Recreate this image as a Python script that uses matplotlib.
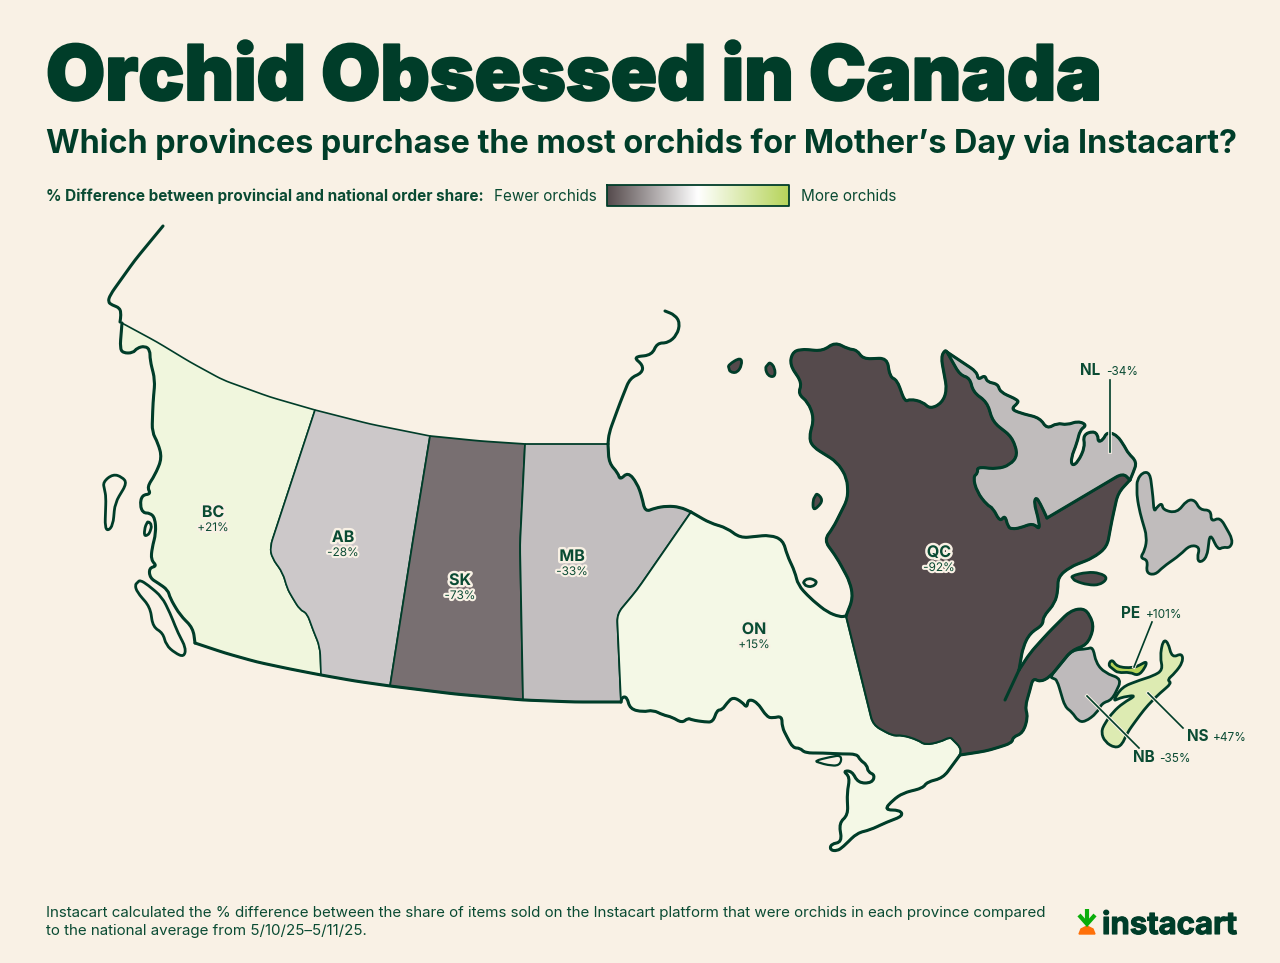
import numpy as np
import matplotlib
matplotlib.use('Agg')
import matplotlib.pyplot as plt
import matplotlib.patheffects as pe
from matplotlib.colors import LinearSegmentedColormap, TwoSlopeNorm
from matplotlib.patches import PathPatch
from matplotlib.path import Path

# Province values (% difference from national order share)
provinces = ['BC', 'AB', 'SK', 'MB', 'ON', 'QC', 'NL', 'NB', 'NS', 'PE']
values = [21, -28, -73, -33, 15, -92, -34, -35, 47, 101]
value_labels = ['+21%', '-28%', '-73%', '-33%', '+15%', '-92%', '-34%', '-35%', '+47%', '+101%']

# Map outlines in pixel units
bc_north = [(120, 322), (157, 342), (190, 362), (223, 380), (270, 397), (315, 410)]
bc_ab = [(315, 410), (270, 547), (272, 558), (283, 573), (287, 588), (292, 597), (300, 610),
         (307, 613), (313, 630), (320, 647), (321, 675)]
south_bc = [(195, 643), (225, 653), (257, 662), (290, 669), (321, 675)]
south_ab = [(321, 675), (355, 681), (390, 686)]
south_sk = [(390, 686), (455, 694), (523, 700)]
south_mb = [(523, 700), (575, 702), (621, 702)]
bc_coast = [(195, 643), (193, 628), (180, 615), (170, 598), (168, 590), (158, 583), (150, 578),
            (149, 568), (157, 566), (151, 560), (152, 548), (156, 533), (155, 518), (150, 513),
            (143, 513), (140, 505), (142, 495), (151, 494), (147, 487), (155, 475), (162, 458),
            (158, 443), (152, 432), (153, 403), (155, 380), (150, 360), (150, 350), (145, 346),
            (137, 348), (133, 353), (123, 353), (120, 348), (122, 323)]
alaska_line = [(163, 226), (135, 260), (110, 295), (108, 302), (112, 305), (120, 308), (121, 315), (120, 322)]
haida = [(103, 482), (113, 474), (122, 477), (127, 483), (115, 503), (113, 525), (108, 531),
         (105, 527), (106, 497)]
bc_small = [(148, 521), (152, 525), (150, 532), (148, 535), (144, 536), (145, 527)]
vancouver = [(140, 580), (148, 585), (162, 597), (170, 613), (178, 633), (186, 648), (184, 657),
             (175, 653), (166, 645), (163, 633), (153, 627), (150, 607), (137, 592), (135, 585)]

ab_north = [(315, 410), (370, 424), (430, 436)]
ab_sk = [(430, 436), (413, 540), (390, 686)]
sk_north = [(430, 436), (480, 441), (525, 444)]
sk_mb = [(525, 444), (520, 545), (523, 700)]
mb_north = [(525, 444), (608, 444)]
mb_coast = [(608, 444), (609, 463), (618, 473), (620, 480), (628, 472), (637, 483), (642, 497),
            (645, 512), (655, 508), (667, 506), (680, 507), (691, 512)]
mb_on = [(691, 512), (637, 590), (617, 614), (621, 702)]
mb_line = [(608, 444), (609, 433), (620, 403), (630, 378), (642, 373), (643, 365), (633, 357),
           (652, 355), (657, 343), (668, 343), (677, 335), (680, 323), (675, 315), (665, 311)]

on_north = [(691, 512), (710, 523), (727, 528), (740, 538), (770, 535), (783, 540), (787, 555),
            (795, 572), (798, 585), (810, 598), (827, 612), (840, 617), (846, 616)]
on_qc = [(846, 616), (873, 725), (893, 736), (902, 735), (918, 740), (925, 745), (940, 742),
         (950, 737), (953, 740), (961, 748), (960, 755)]
on_south = [(960, 755), (943, 778), (927, 782), (923, 788), (903, 793), (893, 800), (884, 810),
            (900, 810), (903, 816), (887, 822), (870, 830), (857, 833), (843, 847), (837, 851),
            (830, 850), (831, 844), (842, 842), (839, 823), (848, 815), (847, 793), (850, 777),
            (843, 771), (852, 771), (858, 783), (872, 783), (875, 775), (868, 772), (867, 765),
            (860, 760), (857, 754), (842, 754), (823, 753), (805, 753), (800, 748), (793, 748),
            (787, 737), (782, 727), (782, 716), (773, 718), (767, 717), (757, 702), (748, 699),
            (747, 708), (742, 702), (733, 697), (727, 703), (722, 710), (717, 710), (713, 722),
            (705, 722), (692, 720), (688, 718), (682, 723), (672, 717), (663, 715), (653, 710),
            (643, 712), (630, 709), (627, 697), (622, 697), (621, 702)]
manitoulin = [(814, 761), (830, 757), (842, 755), (840, 766), (827, 765)]
akimiski = [(803, 582), (808, 578), (815, 580), (817, 583), (812, 587), (806, 586)]

qc_west = [(846, 616), (853, 598), (850, 582), (837, 558), (824, 540), (833, 528), (848, 498),
           (847, 478), (837, 462), (813, 447), (809, 438), (814, 418), (808, 402), (798, 394),
           (802, 383), (790, 365), (792, 353), (800, 349), (823, 351), (835, 342), (848, 349),
           (857, 350), (863, 359), (887, 358), (890, 377), (897, 380), (905, 402), (910, 399),
           (923, 402), (930, 409), (942, 403), (947, 390), (941, 357), (945, 350), (947, 352)]
qc_nl = [(947, 352), (960, 375), (970, 378), (973, 392), (987, 402), (993, 422), (1012, 437),
         (1018, 455), (1010, 465), (997, 469), (977, 467), (978, 473), (973, 477), (977, 492),
         (987, 505), (993, 508), (1000, 522), (1005, 515), (1008, 527), (1012, 529), (1020, 528),
         (1033, 523), (1040, 530), (1038, 517), (1034, 503), (1036, 497), (1040, 503), (1047, 518)]
qc_nl_end = [(1047, 518), (1123, 473), (1130, 480)]
qc_east = [(1130, 480), (1118, 493), (1112, 520), (1107, 547), (1093, 558), (1070, 567), (1058, 577),
           (1058, 590), (1055, 603), (1043, 617), (1043, 625), (1030, 633), (1023, 647), (1019, 670)]
gaspe = [(1019, 670), (1030, 653), (1048, 633), (1070, 611), (1083, 608), (1090, 615), (1094, 628), (1087, 645),
         (1072, 650), (1050, 677), (1040, 682), (1033, 678), (1030, 690), (1025, 707), (1028, 717),
         (1023, 733), (1013, 737), (1012, 743), (990, 750), (980, 752), (960, 755)]
gaspe_tip = [(1019, 670), (1005, 700)]
anticosti = [(1071, 576), (1087, 572), (1100, 573), (1108, 578), (1100, 585), (1088, 585), (1075, 581)]
qc_isle_1 = [(728, 365), (741, 357), (742, 365), (737, 373), (730, 372)]
qc_isle_2 = [(770, 362), (775, 368), (775, 377), (768, 376), (765, 368)]
qc_isle_3 = [(817, 493), (823, 500), (818, 507), (813, 510), (813, 500)]

nl_coast = [(947, 352), (977, 372), (978, 380), (985, 375), (987, 382), (998, 384), (1000, 392),
            (1018, 400), (1018, 403), (1011, 409), (1020, 413), (1040, 418), (1047, 429), (1057, 423),
            (1067, 425), (1078, 421), (1087, 425), (1080, 430), (1077, 443), (1071, 458), (1072, 466),
            (1078, 462), (1085, 447), (1083, 435), (1093, 431), (1098, 435), (1098, 442), (1103, 440),
            (1107, 432), (1117, 435), (1125, 447), (1128, 453), (1137, 462), (1133, 473), (1130, 480)]
newfoundland = [(1137, 480), (1143, 472), (1150, 473), (1153, 497), (1154, 512), (1157, 507), (1162, 503),
                (1163, 510), (1177, 513), (1187, 500), (1195, 500), (1200, 510), (1211, 510), (1211, 522),
                (1220, 517), (1233, 540), (1230, 548), (1223, 547), (1218, 550), (1210, 533), (1207, 557),
                (1200, 563), (1197, 558), (1200, 547), (1190, 545), (1180, 555), (1163, 567), (1155, 575),
                (1146, 573), (1148, 560), (1140, 558), (1145, 550), (1147, 537), (1140, 513), (1137, 497)]
nb = [(1050, 677), (1072, 650), (1087, 649), (1093, 647), (1096, 663), (1105, 673), (1122, 679),
      (1112, 700), (1102, 703), (1097, 713), (1085, 722), (1078, 721), (1072, 712), (1065, 707), (1057, 680)]
pe_island = [(1108, 665), (1112, 659), (1117, 667), (1133, 668), (1140, 665), (1147, 661), (1145, 668),
             (1138, 676), (1130, 672), (1118, 673)]
ns = [(1113, 701), (1122, 687), (1140, 680), (1153, 676), (1163, 670), (1160, 657), (1163, 640),
      (1168, 642), (1172, 658), (1182, 653), (1183, 662), (1175, 673), (1167, 680), (1172, 683),
      (1160, 693), (1148, 705), (1140, 715), (1127, 733), (1122, 745), (1115, 748), (1105, 742),
      (1101, 732), (1105, 723), (1113, 712), (1123, 703), (1137, 695), (1123, 697)]

# Leader lines for the eastern provinces
nl_leader = [(1110, 380), (1110, 452)]
pe_leader = [(1152, 622), (1134, 667)]
ns_leader = [(1148, 693), (1183, 728)]
nb_leader = [(1087, 696), (1139, 748)]

# Carrot logo
logo_dome = [(1079, 934), (1081, 929), (1087, 926), (1093, 929), (1095, 934)]
logo_stem = [(1087, 909), (1087, 924)]
logo_leaf = [(1079, 915), (1087, 924), (1095, 915)]

BG = '#F9F1E5'
GREEN = '#003D29'
TEXT = '#0A4B33'
plt.rcParams['font.family'] = ['Inter', 'Lato', 'DejaVu Sans']

cmap = LinearSegmentedColormap.from_list('orchid', ['#554A4C', '#FFFFFF', '#B6D45A'])
norm = TwoSlopeNorm(vmin=-92, vcenter=0, vmax=101)
colors = dict(zip(provinces, [cmap(norm(v)) for v in values]))

fig = plt.figure(figsize=(12.8, 9.63), dpi=100, facecolor=BG)
ax = fig.add_axes([0, 0, 1, 1])
ax.set_xlim(0, 1280)
ax.set_ylim(963, 0)
ax.axis('off')


def chain_path(chains, radius=8):
    # Round the corners of each chain, the chain ends stay where they are
    verts = []
    codes = []
    for chain in chains:
        pts = np.array(chain, dtype=float)
        if not verts:
            verts.append(pts[0])
            codes.append(Path.MOVETO)
        for i in range(1, len(pts) - 1):
            back = pts[i - 1] - pts[i]
            ahead = pts[i + 1] - pts[i]
            len_b = np.hypot(*back)
            len_a = np.hypot(*ahead)
            verts.append(pts[i] + back / len_b * min(radius, len_b / 2))
            codes.append(Path.LINETO)
            verts.append(pts[i])
            codes.append(Path.CURVE3)
            verts.append(pts[i] + ahead / len_a * min(radius, len_a / 2))
            codes.append(Path.CURVE3)
        verts.append(pts[-1])
        codes.append(Path.LINETO)
    return Path(np.array(verts), codes)


def shape(chains, color, lw=1.5):
    patch = PathPatch(chain_path(chains), facecolor=color, edgecolor=GREEN, lw=lw,
                      joinstyle='round', zorder=2)
    ax.add_patch(patch)


def island(points, color, lw=2.0):
    # Closed outline, start halfway along the last edge so every corner is rounded
    start = (np.array(points[0], dtype=float) + np.array(points[-1], dtype=float)) / 2
    shape([[tuple(start)] + points + [tuple(start)]], color, lw)


def line(chain, lw=2.2):
    patch = PathPatch(chain_path([chain]), facecolor='none', edgecolor=GREEN, lw=lw,
                      capstyle='round', joinstyle='round', zorder=3)
    ax.add_patch(patch)


# Provinces
shape([bc_north, bc_ab, south_bc[::-1], bc_coast], colors['BC'], 1.2)
shape([ab_north, ab_sk, south_ab[::-1], bc_ab[::-1]], colors['AB'], 1.2)
shape([sk_north, sk_mb, south_sk[::-1], ab_sk[::-1]], colors['SK'], 1.3)
shape([mb_north, mb_coast, mb_on, south_mb[::-1], sk_mb[::-1]], colors['MB'], 1.3)
shape([on_north, on_qc, on_south, mb_on[::-1]], colors['ON'], 1.3)
shape([qc_west, qc_nl, qc_nl_end, qc_east, gaspe, on_qc[::-1]], colors['QC'], 1.5)
shape([nl_coast, qc_nl_end[::-1], qc_nl[::-1]], colors['NL'], 1.5)
island(newfoundland, colors['NL'])
island(nb, colors['NB'])
island(ns, colors['NS'])
island(pe_island, colors['PE'])
for isle in [haida, bc_small, vancouver]:
    island(isle, BG)
for isle in [anticosti, qc_isle_1, qc_isle_2, qc_isle_3]:
    island(isle, colors['QC'])
island(manitoulin, BG, 1.6)
island(akimiski, BG)

# Heavier coastlines
for part in [south_bc + south_ab[1:] + south_sk[1:] + south_mb[1:], alaska_line, bc_coast, mb_coast,
             mb_line, on_north, on_south, qc_west, qc_east, gaspe, nl_coast, qc_nl, qc_nl_end, gaspe_tip]:
    line(part)

halo = [pe.withStroke(linewidth=3.5, foreground=BG)]
halo_small = [pe.withStroke(linewidth=3, foreground=BG)]

# Labels inside the provinces
inside = {'BC': (213, 517), 'AB': (343, 542), 'SK': (460, 585), 'MB': (572, 561),
          'QC': (939, 557), 'ON': (754, 634)}
for name, (x, y) in inside.items():
    label = value_labels[provinces.index(name)]
    ax.text(x, y, name, ha='center', va='baseline', fontsize=11.5, fontweight='bold', color=TEXT,
            path_effects=halo, zorder=6)
    ax.text(x, y + 14, label, ha='center', va='baseline', fontsize=8.5, color=TEXT,
            path_effects=halo_small, zorder=6)

# Leaders with their callouts
for leader in [nl_leader, pe_leader, ns_leader, nb_leader]:
    xs, ys = zip(*leader)
    ax.plot(xs, ys, color=GREEN, lw=1.2, zorder=5,
            path_effects=[pe.Stroke(linewidth=2.6, foreground=BG), pe.Normal()])

outside = {'NL': (1080, 1106, 375), 'PE': (1121, 1146, 618), 'NS': (1187, 1213, 741), 'NB': (1133, 1159, 762)}
for name, (x0, x1, y) in outside.items():
    label = value_labels[provinces.index(name)]
    ax.text(x0, y, name, ha='left', va='baseline', fontsize=11, fontweight='bold', color=TEXT, zorder=6)
    ax.text(x1, y, label, ha='left', va='baseline', fontsize=8.5, color=TEXT, zorder=6)

# Headings
ax.text(46, 100, 'Orchid Obsessed in Canada', ha='left', va='baseline', fontsize=55, fontweight='black',
        color=GREEN, path_effects=[pe.withStroke(linewidth=1.5, foreground=GREEN)])
ax.text(46, 153, 'Which provinces purchase the most orchids for Mother\u2019s Day via Instacart?',
        ha='left', va='baseline', fontsize=23.3, fontweight='bold', color=GREEN)

# Colour legend
ax.text(46, 201, '% Difference between provincial and national order share:', ha='left', va='baseline',
        fontsize=11, fontweight='bold', color=TEXT)
ax.text(494, 201, 'Fewer orchids', ha='left', va='baseline', fontsize=11, color=TEXT)
ax.text(801, 201, 'More orchids', ha='left', va='baseline', fontsize=11, color=TEXT)
gradient = np.linspace(0, 1, 256).reshape(1, -1)
ax.imshow(gradient, cmap=cmap, extent=(607, 789, 206, 185), aspect='auto', zorder=2)
ax.plot([607, 789, 789, 607, 607], [185, 185, 206, 206, 185], color=GREEN, lw=1.3, zorder=3)
ax.set_xlim(0, 1280)
ax.set_ylim(963, 0)

# Footnote
ax.text(46, 917, 'Instacart calculated the % difference between the share of items sold on the Instacart '
        'platform that were orchids in each province compared', ha='left', va='baseline', fontsize=10.9, color=TEXT)
ax.text(46, 935, 'to the national average from 5/10/25\u20135/11/25.', ha='left', va='baseline',
        fontsize=10.9, color=TEXT)

# Logo
xs, ys = zip(*logo_dome)
ax.fill(xs, ys, color='#FF7009', zorder=4)
line_args = dict(color='#0AAD0A', lw=3.0, solid_capstyle='butt', solid_joinstyle='miter', zorder=4)
ax.plot(*zip(*logo_stem), **line_args)
ax.plot(*zip(*logo_leaf), **line_args)
ax.text(1102, 934, 'instacart', ha='left', va='baseline', fontsize=22.4, fontweight='bold', color=GREEN,
        path_effects=[pe.withStroke(linewidth=0.8, foreground=GREEN)])

fig.savefig('out.png', dpi=100, facecolor=BG)
